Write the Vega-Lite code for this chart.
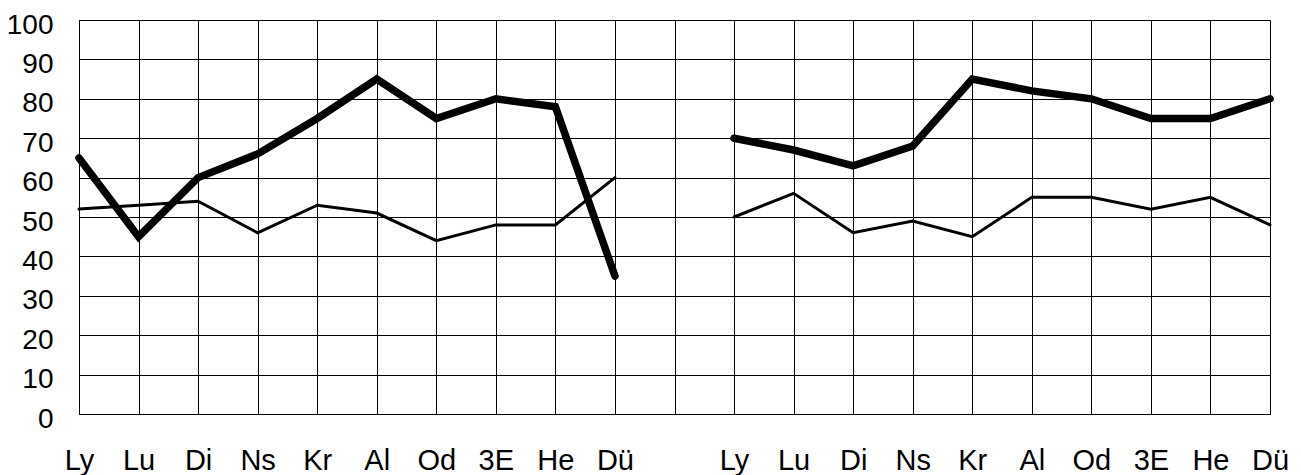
{
  "$schema": "https://vega.github.io/schema/vega-lite/v6.json",
  "width": 1191,
  "height": 394,
  "autosize": {"type": "none"},
  "padding": {"left": 79, "top": 20, "right": 31, "bottom": 61},
  "background": "white",
  "config": {
    "view": {"stroke": null},
    "font": "Liberation Sans"
  },
  "data": {
    "values": [
      {"i": 0, "v": 65, "s": "thick", "g": 1},
      {"i": 1, "v": 45, "s": "thick", "g": 1},
      {"i": 2, "v": 60, "s": "thick", "g": 1},
      {"i": 3, "v": 66, "s": "thick", "g": 1},
      {"i": 4, "v": 75, "s": "thick", "g": 1},
      {"i": 5, "v": 85, "s": "thick", "g": 1},
      {"i": 6, "v": 75, "s": "thick", "g": 1},
      {"i": 7, "v": 80, "s": "thick", "g": 1},
      {"i": 8, "v": 78, "s": "thick", "g": 1},
      {"i": 9, "v": 35, "s": "thick", "g": 1},
      {"i": 0, "v": 52, "s": "thin", "g": 1},
      {"i": 1, "v": 53, "s": "thin", "g": 1},
      {"i": 2, "v": 54, "s": "thin", "g": 1},
      {"i": 3, "v": 46, "s": "thin", "g": 1},
      {"i": 4, "v": 53, "s": "thin", "g": 1},
      {"i": 5, "v": 51, "s": "thin", "g": 1},
      {"i": 6, "v": 44, "s": "thin", "g": 1},
      {"i": 7, "v": 48, "s": "thin", "g": 1},
      {"i": 8, "v": 48, "s": "thin", "g": 1},
      {"i": 9, "v": 60, "s": "thin", "g": 1},
      {"i": 11, "v": 70, "s": "thick", "g": 2},
      {"i": 12, "v": 67, "s": "thick", "g": 2},
      {"i": 13, "v": 63, "s": "thick", "g": 2},
      {"i": 14, "v": 68, "s": "thick", "g": 2},
      {"i": 15, "v": 85, "s": "thick", "g": 2},
      {"i": 16, "v": 82, "s": "thick", "g": 2},
      {"i": 17, "v": 80, "s": "thick", "g": 2},
      {"i": 18, "v": 75, "s": "thick", "g": 2},
      {"i": 19, "v": 75, "s": "thick", "g": 2},
      {"i": 20, "v": 80, "s": "thick", "g": 2},
      {"i": 11, "v": 50, "s": "thin", "g": 2},
      {"i": 12, "v": 56, "s": "thin", "g": 2},
      {"i": 13, "v": 46, "s": "thin", "g": 2},
      {"i": 14, "v": 49, "s": "thin", "g": 2},
      {"i": 15, "v": 45, "s": "thin", "g": 2},
      {"i": 16, "v": 55, "s": "thin", "g": 2},
      {"i": 17, "v": 55, "s": "thin", "g": 2},
      {"i": 18, "v": 52, "s": "thin", "g": 2},
      {"i": 19, "v": 55, "s": "thin", "g": 2},
      {"i": 20, "v": 48, "s": "thin", "g": 2}
    ]
  },
  "mark": {"type": "line", "color": "black", "strokeCap": "round", "strokeJoin": "miter", "clip": false},
  "encoding": {
    "x": {
      "field": "i",
      "type": "quantitative",
      "scale": {"domain": [0, 20], "nice": false, "zero": false},
      "axis": {
        "title": null,
        "values": [0, 1, 2, 3, 4, 5, 6, 7, 8, 9, 10, 11, 12, 13, 14, 15, 16, 17, 18, 19, 20],
        "labelExpr": "['Ly','Lu','Di','Ns','Kr','Al','Od','3E','He','Dü','','Ly','Lu','Di','Ns','Kr','Al','Od','3E','He','Dü'][datum.value]",
        "grid": true,
        "gridColor": "black",
        "gridOpacity": 1,
        "gridWidth": 1,
        "ticks": false,
        "domain": true,
        "domainColor": "black",
        "domainWidth": 1,
        "labelFont": "Liberation Sans",
        "labelFontSize": 29,
        "labelColor": "black",
        "labelBaseline": "alphabetic",
        "labelPadding": 55,
        "labelFlush": false,
        "labelOverlap": false
      }
    },
    "y": {
      "field": "v",
      "type": "quantitative",
      "scale": {"domain": [0, 100], "nice": false},
      "axis": {
        "title": null,
        "values": [0, 10, 20, 30, 40, 50, 60, 70, 80, 90, 100],
        "grid": true,
        "gridColor": "black",
        "gridOpacity": 1,
        "gridWidth": 1,
        "ticks": false,
        "domain": true,
        "domainColor": "black",
        "labelFont": "Liberation Sans",
        "labelFontSize": 28,
        "labelColor": "black",
        "labelBaseline": "alphabetic",
        "labelOffset": 13,
        "labelPadding": 26,
        "labelFlush": false,
        "labelOverlap": false
      }
    },
    "detail": {"field": "g"},
    "strokeWidth": {
      "field": "s",
      "type": "nominal",
      "scale": {"domain": ["thick", "thin"], "range": [7.5, 3]},
      "legend": null
    }
  }
}
